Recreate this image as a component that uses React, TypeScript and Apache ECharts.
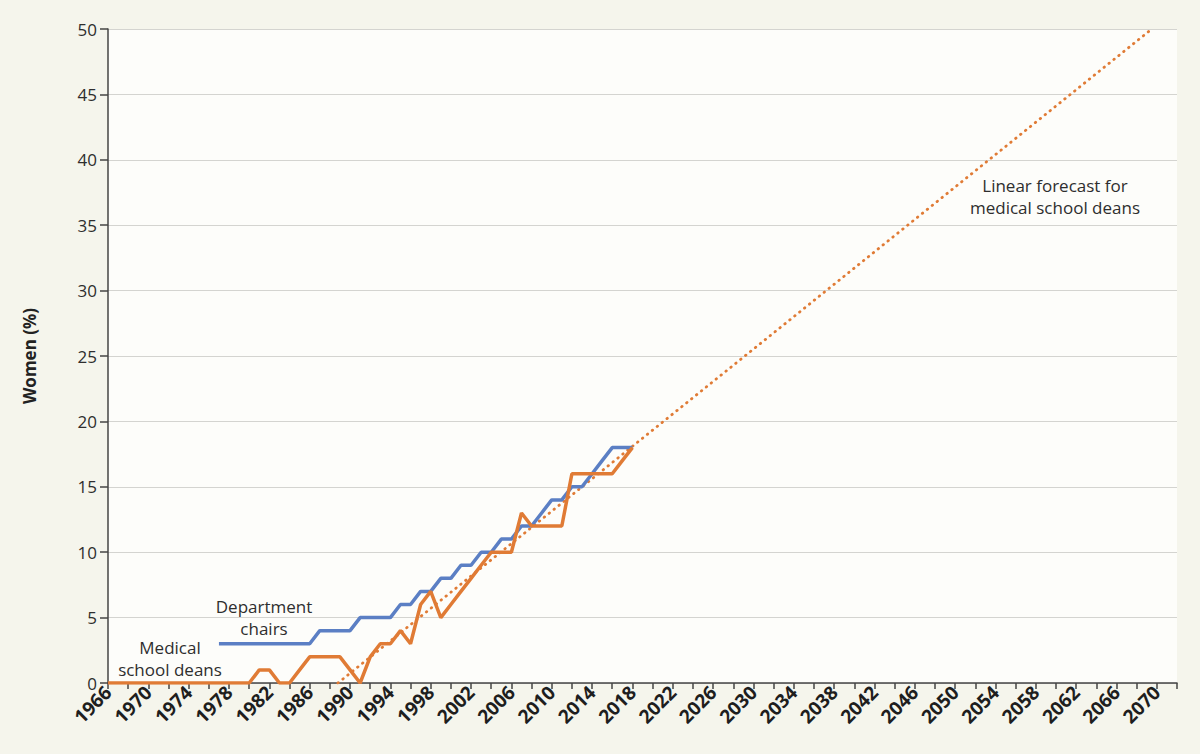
import React, { useEffect, useRef } from "react";
import * as echarts from "echarts";

const deanYears: number[] = [
  1966, 1967, 1968, 1969, 1970, 1971, 1972, 1973, 1974, 1975, 1976, 1977, 1978, 1979,
  1980, 1981, 1982, 1983, 1984, 1985, 1986, 1987, 1988, 1989, 1990, 1991, 1992, 1993,
  1994, 1995, 1996, 1997, 1998, 1999, 2000, 2001, 2002, 2003, 2004, 2005, 2006, 2007,
  2008, 2009, 2010, 2011, 2012, 2013, 2014, 2015, 2016, 2017, 2018,
];
const deanValues: number[] = [
  0, 0, 0, 0, 0, 0, 0, 0, 0, 0, 0, 0, 0, 0,
  0, 1, 1, 0, 0, 1, 2, 2, 2, 2, 1, 0, 2, 3,
  3, 4, 3, 6, 7, 5, 6, 7, 8, 9, 10, 10, 10, 13,
  12, 12, 12, 12, 16, 16, 16, 16, 16, 17, 18,
];
const chairYears: number[] = [
  1977, 1978, 1979, 1980, 1981, 1982, 1983, 1984, 1985, 1986, 1987, 1988, 1989, 1990,
  1991, 1992, 1993, 1994, 1995, 1996, 1997, 1998, 1999, 2000, 2001, 2002, 2003, 2004,
  2005, 2006, 2007, 2008, 2009, 2010, 2011, 2012, 2013, 2014, 2015, 2016, 2017, 2018,
];
const chairValues: number[] = [
  3, 3, 3, 3, 3, 3, 3, 3, 3, 3, 4, 4, 4, 4,
  5, 5, 5, 5, 6, 6, 7, 7, 8, 8, 9, 9, 10, 10,
  11, 11, 12, 12, 13, 14, 14, 15, 15, 16, 17, 18, 18, 18,
];
const forecastYears: number[] = [1988.8, 2069.5];
const forecastValues: number[] = [0, 50];

const FONT = "'Open Sans', 'Noto Sans', sans-serif";
const BLUE = "#5b7fc4";
const ORANGE = "#e07b35";

export default function App() {
  const ref = useRef<HTMLDivElement>(null);
  useEffect(() => {
    if (!ref.current) return;
    const chart = echarts.init(ref.current, null, { renderer: "svg" });
    const pair = (xs: number[], ys: number[]) => xs.map((x, i) => [x, ys[i]]);
    const note = (text: string, x: number, y: number) => ({
      type: "text",
      x,
      y,
      z: 10,
      style: {
        text,
        align: "center",
        verticalAlign: "top",
        fill: "#2e2e2e",
        font: `17px ${FONT}`,
        lineHeight: 22,
      },
    });
    chart.setOption({
      animation: false,
      backgroundColor: "#f5f5ec",
      grid: {
        left: 108,
        right: 23,
        top: 29,
        bottom: 71,
        show: true,
        backgroundColor: "#fdfdfa",
        borderWidth: 0,
      },
      xAxis: {
        type: "value",
        min: 1966,
        max: 2072,
        interval: 2,
        axisLine: { show: true, onZero: false, lineStyle: { color: "#444", width: 1.5 } },
        axisTick: { show: true, length: 6, lineStyle: { color: "#444", width: 1.5 } },
        splitLine: { show: false },
        axisLabel: {
          rotate: 45,
          margin: 6,
          color: "#1e1e1e",
          fontFamily: FONT,
          fontWeight: "bold",
          fontSize: 19,
          showMaxLabel: true,
          formatter: (v: number) => ((v - 1966) % 4 === 0 ? String(v) : ""),
        },
      },
      yAxis: {
        type: "value",
        min: 0,
        max: 50,
        interval: 5,
        name: "Women (%)",
        nameLocation: "middle",
        nameGap: 70,
        nameTextStyle: { fontFamily: FONT, fontWeight: "bold", fontSize: 17, color: "#222" },
        axisLine: { show: true, lineStyle: { color: "#444", width: 1.5 } },
        axisTick: { show: true, length: 8, lineStyle: { color: "#444", width: 1.5 } },
        splitLine: { show: true, lineStyle: { color: "#d4d4d0", width: 1.2 } },
        axisLabel: { margin: 11, color: "#2e2e2e", fontFamily: FONT, fontSize: 17 },
      },
      series: [
        {
          name: "Linear forecast",
          type: "line",
          data: pair(forecastYears, forecastValues),
          showSymbol: false,
          symbol: "none",
          lineStyle: { color: ORANGE, width: 2.8, type: [0.5, 5.8], cap: "round" },
          z: 1,
        },
        {
          name: "Department chairs",
          type: "line",
          data: pair(chairYears, chairValues),
          showSymbol: false,
          symbol: "none",
          lineStyle: { color: BLUE, width: 3.5 },
          z: 2,
        },
        {
          name: "Medical school deans",
          type: "line",
          data: pair(deanYears, deanValues),
          showSymbol: false,
          symbol: "none",
          lineStyle: { color: ORANGE, width: 3.5 },
          z: 3,
        },
      ],
      graphic: [
        note("Department\nchairs", 264, 595),
        note("Medical\nschool deans", 170, 636),
        note("Linear forecast for\nmedical school deans", 1055, 174),
      ],
    });
    return () => chart.dispose();
  }, []);
  return (
    <div
      ref={ref}
      style={{ position: "fixed", left: 0, top: 0, width: 1200, height: 754 }}
    />
  );
}
